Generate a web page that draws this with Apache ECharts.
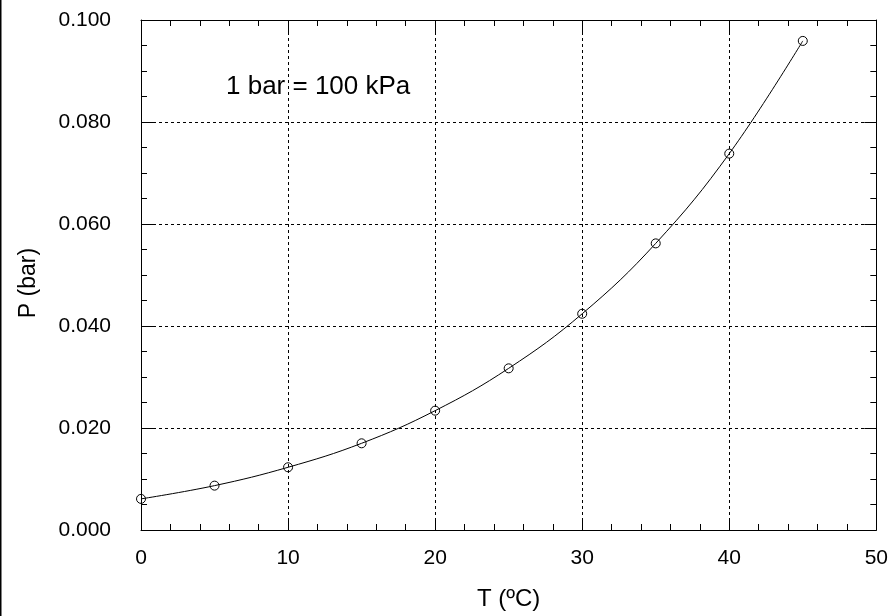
<!DOCTYPE html>
<html><head><meta charset="utf-8">
<script src="https://cdn.jsdelivr.net/npm/echarts@6/dist/echarts.min.js"></script>
<style>html,body{margin:0;padding:0;background:#fff}#c{width:891px;height:616px}</style>
</head><body><div id="c"></div>
<script>
const temps = [0, 5, 10, 15, 20, 25, 30, 35, 40, 45];
const pressures = [0.0061, 0.0087, 0.0123, 0.0170, 0.0234, 0.0317, 0.0424, 0.0562, 0.0738, 0.0959];
const xTitle = 'T (ºC)';
const yTitle = 'P (bar)';
const note = '1 bar = 100 kPa';

const FONT = '"Liberation Sans", Arial, sans-serif';
const chart = echarts.init(document.getElementById('c'), null, {renderer: 'canvas'});
const tickCommon = {
  axisLine: {show: true, onZero: false, lineStyle: {color: '#000', width: 1}},
  axisTick: {show: true, inside: true, length: 12, lineStyle: {color: '#000', width: 1}},
  minorTick: {show: true, splitNumber: 4, length: 6, lineStyle: {color: '#000', width: 1}},
};
const xMinor = {minorTick: {show: true, splitNumber: 5, length: 6, lineStyle: {color: '#000', width: 1}}};
const data = temps.map((t, i) => [t, pressures[i]]);
chart.setOption({
  animation: false,
  grid: {left: 141, top: 20, right: 9, bottom: 86, containLabel: false},
  xAxis: [
    Object.assign({type: 'value', min: 0, max: 50, interval: 10, position: 'bottom',
      name: xTitle, nameLocation: 'middle', nameGap: 57,
      nameTextStyle: {fontFamily: FONT, fontSize: 24, color: '#000'},
      axisLabel: {fontFamily: FONT, fontSize: 21, color: '#000', margin: 18},
      splitLine: {show: true, lineStyle: {color: '#000', type: [3, 3], width: 1}}}, tickCommon, xMinor),
    Object.assign({type: 'value', min: 0, max: 50, interval: 10, position: 'top',
      axisLabel: {show: false}, splitLine: {show: false}}, tickCommon, xMinor)
  ],
  yAxis: [
    Object.assign({type: 'value', min: 0, max: 0.1, interval: 0.02, position: 'left',
      axisLabel: {fontFamily: FONT, fontSize: 21, color: '#000', margin: 30,
        formatter: v => v.toFixed(3)},
      splitLine: {show: true, lineStyle: {color: '#000', type: [3, 3], width: 1}}}, tickCommon),
    Object.assign({type: 'value', min: 0, max: 0.1, interval: 0.02, position: 'right',
      axisLabel: {show: false}, splitLine: {show: false}}, tickCommon)
  ],
  graphic: [
    {type: 'line', shape: {x1: 0.75, y1: 0, x2: 0.75, y2: 616}, style: {stroke: '#000', lineWidth: 1.5}},
    {type: 'text', x: 226, y: 87, style: {text: note, fontFamily: FONT, fontSize: 26, fill: '#000',
      verticalAlign: 'middle', align: 'left'}},
    {type: 'text', x: 29, y: 283, rotation: Math.PI / 2, style: {text: yTitle, fontFamily: FONT,
      fontSize: 23, fill: '#000', align: 'center', verticalAlign: 'middle'}}
  ],
  series: [{
    type: 'line', data: data, xAxisIndex: 0, yAxisIndex: 0,
    smooth: 0.4, symbol: 'circle', symbolSize: 9, showSymbol: true,
    lineStyle: {color: '#000', width: 1},
    itemStyle: {color: 'rgba(0,0,0,0)', borderColor: '#000', borderWidth: 1},
    z: 5
  }]
});
</script></body></html>
